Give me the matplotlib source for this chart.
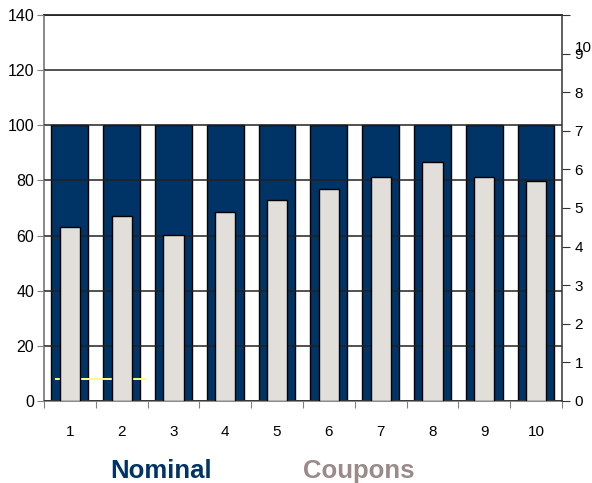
import matplotlib.pyplot as plt
import matplotlib.transforms as mtransforms
import numpy as np

# bond cash flows per period
periods = [1, 2, 3, 4, 5, 6, 7, 8, 9, 10]
nominal = [100, 100, 100, 100, 100, 100, 100, 100, 100, 100]
coupons = [4.51, 4.79, 4.29, 4.90, 5.21, 5.49, 5.81, 6.19, 5.81, 5.70]
level_x = [0.73, 2.45]
level_y = [8, 8]

NAVY = '#003366'
LIGHT = '#E2DFDA'

plt.rcParams['font.family'] = ['Liberation Sans', 'DejaVu Sans']

fig = plt.figure(figsize=(5.92, 4.83), dpi=100)
ax = fig.add_axes([0.0743, 0.1698, 0.8750, 0.7992])
x = np.array(periods)

ax.bar(x, nominal, width=0.71, color=NAVY, edgecolor='black', linewidth=1.0, zorder=1)
ax.plot(level_x, level_y, color='#FFFF80', linewidth=1.4, zorder=3)
ax.set_ylim(0, 140)
ax.set_xlim(0.5, 10.5)
ax.set_yticks(range(0, 141, 20))
ax.yaxis.grid(True, color='#222222', linewidth=1.1, zorder=2)
ax.set_axisbelow(False)

# category labels sit between the boundary ticks
ax.set_xticks(np.arange(0.5, 11, 1))
ax.set_xticklabels([])
ax.set_xticks(x, minor=True)
ax.set_xticklabels([str(p) for p in periods], minor=True)
ax.tick_params(axis='x', which='major', direction='out', length=5, color='#808080')
ax.tick_params(axis='x', which='minor', length=0, pad=17, labelsize=11)
ax.tick_params(axis='y', direction='out', length=5, pad=2, labelsize=11.5, color='#808080')

for side in ['left', 'bottom']:
    ax.spines[side].set_color('#808080')
    ax.spines[side].set_linewidth(1.3)
ax.spines['top'].set_color('black')
ax.spines['top'].set_linewidth(1.1)
ax.spines['right'].set_visible(False)

ax2 = ax.twinx()
ax2.bar(x, coupons, width=0.39, color=LIGHT, edgecolor='black', linewidth=1.0)
ax2.set_ylim(0, 10)
ax2.set_yticks(range(0, 11))
ax2.set_yticklabels([str(v) for v in range(0, 10)] + [''])
ax2.tick_params(axis='y', direction='out', length=6, pad=3, labelsize=11, color='#333333')
ax2.spines['right'].set_color('#333333')
ax2.spines['right'].set_linewidth(1.1)
for side in ['left', 'top', 'bottom']:
    ax2.spines[side].set_visible(False)
trans = mtransforms.blended_transform_factory(ax2.transAxes, ax2.transData)
ax2.text(1.025, 9.15, '10', transform=trans, fontsize=11, va='center', ha='left')

fig.text(0.186, 0.011, 'Nominal', color=NAVY, fontsize=18.5, fontweight='bold')
fig.text(0.512, 0.011, 'Coupons', color='#9A8A8A', fontsize=18.5, fontweight='bold')

fig.savefig('out.png', dpi=100)
